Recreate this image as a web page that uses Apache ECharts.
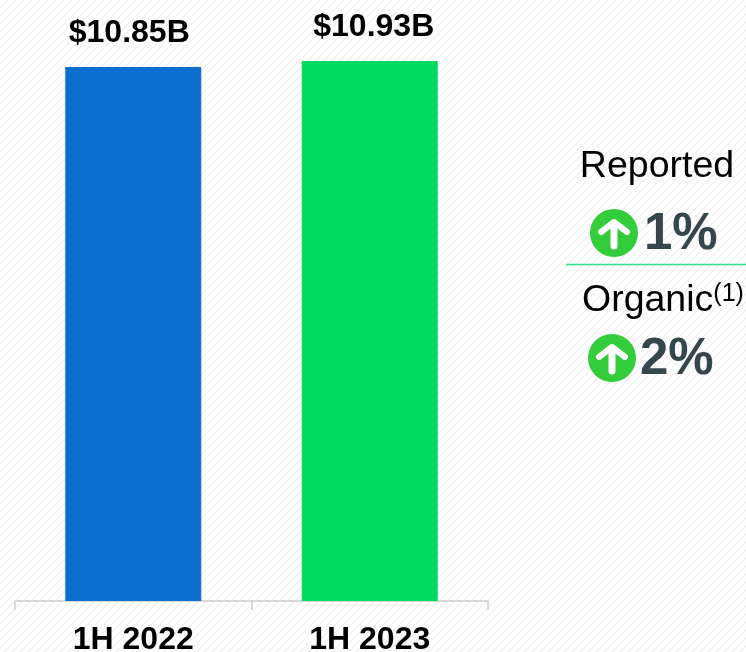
<!DOCTYPE html>
<html><head><meta charset="utf-8">
<style>html,body{margin:0;padding:0;background:#fff}#c{width:746px;height:652px}</style>
<script src="https://cdn.jsdelivr.net/npm/echarts@6/dist/echarts.min.js"></script>
</head><body><div id="c"></div>
<script>
const categories = ['1H 2022', '1H 2023'];
const revenue = [10.85, 10.93];
const revenueLabels = ['$10.85B', '$10.93B'];
const barColors = ['#0c6fd0', '#00d964'];
const growthRows = [
  { title: 'Reported', note: '', change: '1%' },
  { title: 'Organic', note: '(1)', change: '2%' }
];

const FONT = '"Liberation Sans", Arial, sans-serif';
const tile = document.createElement('canvas');
tile.width = 8; tile.height = 8;
const t = tile.getContext('2d');
t.fillStyle = '#ffffff'; t.fillRect(0, 0, 8, 8);
t.strokeStyle = '#f1f1f1'; t.lineWidth = 1.3;
[[-2, 2, 2, -2], [0, 8, 8, 0], [6, 10, 10, 6]].forEach(s => {
  t.beginPath(); t.moveTo(s[0], s[1]); t.lineTo(s[2], s[3]); t.stroke();
});

const labelOffsets = [[-4, -13], [4, -13]];
const rowLayout = [
  { titleX: 657, titleY: 167, circleX: 614, circleY: 233, changeX: 644, changeY: 235 },
  { titleX: 582, titleY: 301, circleX: 612, circleY: 358, changeX: 640, changeY: 360 }
];

function arrow(cx, cy) {
  return [
    { type: 'circle', shape: { cx, cy, r: 24 }, style: { fill: '#33cc3a' } },
    { type: 'polyline', shape: { points: [[cx - 13, cy - 1], [cx, cy - 11], [cx + 13, cy - 1]] },
      style: { stroke: '#fff', lineWidth: 6, lineCap: 'round', lineJoin: 'round', fill: null } },
    { type: 'line', shape: { x1: cx, y1: cy - 9, x2: cx, y2: cy + 13 },
      style: { stroke: '#fff', lineWidth: 7, lineCap: 'round' } }
  ];
}

const graphics = [
  { type: 'line', shape: { x1: 566, y1: 264.5, x2: 746, y2: 264.5 }, style: { stroke: '#2fe08e', lineWidth: 1.5 } }
];
growthRows.forEach((r, i) => {
  const p = rowLayout[i];
  graphics.push({ type: 'text', x: p.titleX, y: p.titleY, style: {
    text: r.note ? `{m|${r.title}}{s|${r.note}}` : `{m|${r.title}}`,
    align: i === 0 ? 'center' : 'left', verticalAlign: 'middle', font: `37px ${FONT}`, fill: '#000',
    rich: { m: { font: `37.5px ${FONT}`, fill: '#000' },
            s: { font: `25px ${FONT}`, fill: '#000', verticalAlign: 'top', padding: [0, 0, 12, 0] } } } });
  graphics.push(...arrow(p.circleX, p.circleY));
  graphics.push({ type: 'text', x: p.changeX, y: p.changeY, style: {
    text: r.change, align: 'left', verticalAlign: 'middle', font: `bold 51px ${FONT}`, fill: '#36474c' } });
});

const chart = echarts.init(document.getElementById('c'), null, { renderer: 'canvas' });
chart.setOption({
  animation: false,
  backgroundColor: { image: tile, repeat: 'repeat' },
  grid: { left: 15, right: 258, top: 61, bottom: 51, outerBoundsMode: 'none' },
  xAxis: {
    type: 'category', data: categories,
    axisLine: { show: true, lineStyle: { color: '#d9d9d9', width: 2 } },
    axisTick: { show: true, length: 9, alignWithLabel: false, lineStyle: { color: '#d9d9d9', width: 2 } },
    axisLabel: { color: '#000', fontFamily: FONT, fontWeight: 'bold', fontSize: 32, margin: 23 }
  },
  yAxis: { type: 'value', min: 3.73, max: 10.93, show: false, splitLine: { show: false } },
  series: [{
    type: 'bar', barWidth: 136,
    data: revenue.map((v, i) => ({
      value: v,
      itemStyle: { color: barColors[i] },
      label: { show: true, position: 'top', offset: labelOffsets[i], formatter: revenueLabels[i],
        color: '#000', fontFamily: FONT, fontWeight: 'bold', fontSize: 32 }
    }))
  }],
  graphic: graphics
});
</script></body></html>
